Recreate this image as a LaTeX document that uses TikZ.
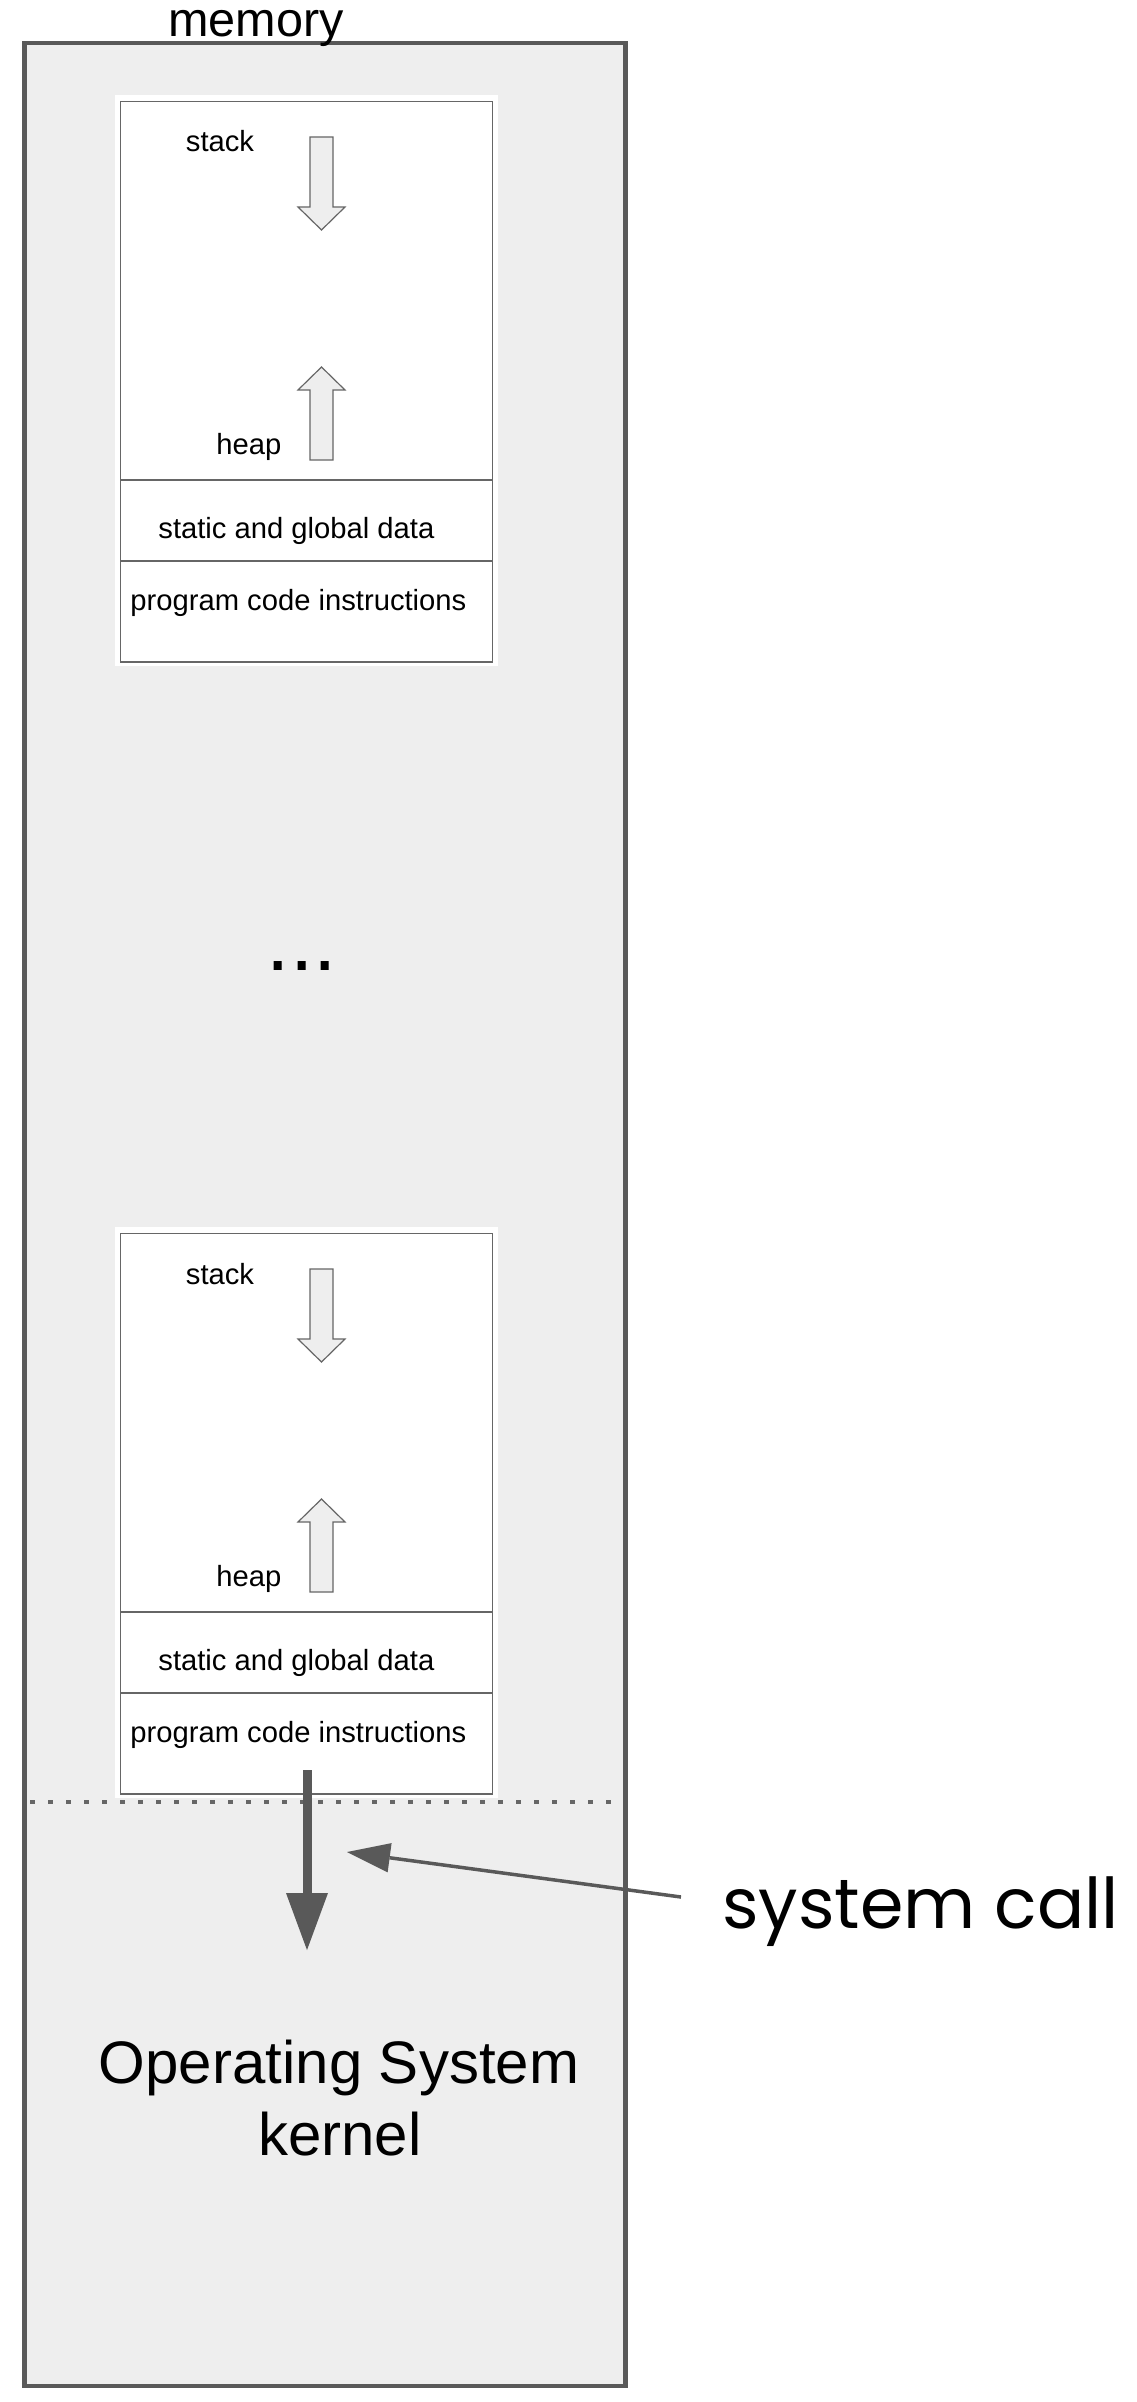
\documentclass[tikz,border=0pt]{standalone}
\usepackage{fontspec}
\setmainfont{Liberation Sans}
\newfontfamily\handfont{Poppins}
\usetikzlibrary{arrows.meta}
\definecolor{panelfill}{HTML}{EEEEEE}
\definecolor{edgegray}{HTML}{666666}
\definecolor{arrowgray}{HTML}{595959}
\begin{document}
\begin{tikzpicture}[x=0.5pt,y=-0.5pt,
  panel/.style={draw=arrowgray, fill=panelfill, line width=2.25pt, inner sep=0pt,
    minimum width=300.5pt, minimum height=1171.5pt},
  procbox/.style={draw=edgegray, fill=white, line width=0.6pt, inner sep=0pt,
    minimum width=186pt, minimum height=280.25pt},
  sepline/.style={draw=edgegray, line width=0.6pt},
  blockarrow/.style={draw=edgegray, fill=panelfill, line width=0.6pt, line join=miter},
  small/.style={inner sep=0pt, font=\fontsize{14.6}{17}\selectfont},
  dotline/.style={draw=edgegray, line width=2.1pt, dash pattern=on 2.4pt off 6.6pt},
  bigarrow/.style={draw=arrowgray, line width=4.5pt,
    -{Triangle[width=21pt,length=28.5pt,line width=0pt]}},
  callarrow/.style={draw=arrowgray, line width=1.75pt,
    -{Triangle[width=14.8pt,length=21.5pt,line width=0pt]}}]
\useasboundingbox (0,0) rectangle (1136,2402);

% memory panel
\node[panel] (memorybox) at (325,1214.5) {};
\node[anchor=base, inner sep=0pt, font=\fontsize{24.3}{28}\selectfont] (memlabel) at (256,37) {memory};

% two process images
\foreach \o/\n in {0/A,1132/B}{
  \fill[white] (115,95+\o) rectangle (498,666+\o);
  \node[procbox] (proc\n) at (306.5,381.75+\o) {};
  \draw[sepline] (121,480+\o) -- (492,480+\o);
  \draw[sepline] (121,561+\o) -- (492,561+\o);
  % stack arrow (down)
  \draw[blockarrow] (310,137+\o) -- (333,137+\o) -- (333,207+\o) -- (345,207+\o)
     -- (321.5,230+\o) -- (298,207+\o) -- (310,207+\o) -- cycle;
  % heap arrow (up)
  \draw[blockarrow] (321.5,367+\o) -- (345,390+\o) -- (333,390+\o) -- (333,460+\o)
     -- (310,460+\o) -- (310,390+\o) -- (298,390+\o) -- cycle;
  \node[small, anchor=base west] (stack\n) at (185.5,152+\o) {stack};
  \node[small, anchor=base west] (heap\n) at (216,454+\o) {heap};
  \node[small, anchor=base west] (static\n) at (158,538+\o) {static and global data};
  \node[small, anchor=base west] (code\n) at (130,610+\o) {program code instructions};
}

% ellipsis
\node[anchor=base, inner sep=0pt, font=\fontsize{42}{48}\selectfont] (dots) at (302,970) {...};

% user/kernel boundary
\coordinate (boundL) at (30,1802);
\coordinate (boundR) at (612,1802);
\draw[dotline] (boundL) -- (boundR);

% kernel label
\node[anchor=base, inner sep=0pt, font=\fontsize{30}{36}\selectfont] (osline1) at (339,2083) {Operating System};
\node[anchor=base, inner sep=0pt, font=\fontsize{30}{36}\selectfont] (osline2) at (340,2155) {kernel};

% system call arrow
\coordinate (callstart) at (307,1770);
\coordinate (calltip) at (307,1950);
\draw[bigarrow] (callstart) -- (calltip);

\node[anchor=base west, inner sep=0pt, font=\handfont\fontsize{35}{40}\selectfont] (syscall) at (722,1928) {system call};
\coordinate (labelfrom) at (681,1897);
\coordinate (labeltip) at (347,1852);
\draw[callarrow] (labelfrom) -- (labeltip);
\end{tikzpicture}
\end{document}
